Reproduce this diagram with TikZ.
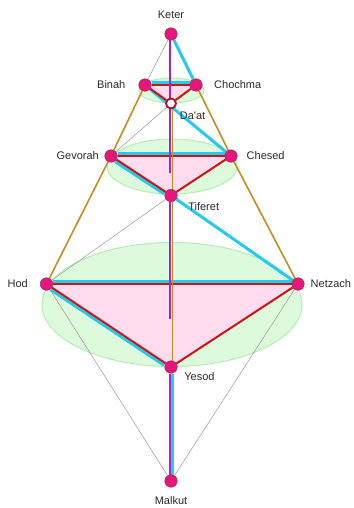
\documentclass[tikz,border=0pt]{standalone}
\usepackage{fontspec}
\setmainfont{Liberation Sans}
\usetikzlibrary{positioning,backgrounds}
\definecolor{csefira}{HTML}{E8157C}
\definecolor{cborder}{HTML}{8A3A4A}
\definecolor{cdaat}{HTML}{A8102C}
\definecolor{cpink}{HTML}{FFDDEE}
\definecolor{cveil}{HTML}{DDFADC}
\definecolor{cveilline}{HTML}{B4EEB2}
\definecolor{cred}{HTML}{CC1414}
\definecolor{ccyan}{HTML}{22CCEE}
\definecolor{cgold}{HTML}{CC8A1A}
\definecolor{cpurple}{HTML}{AA22CC}
\definecolor{cgrey}{HTML}{999999}
\definecolor{ctext}{HTML}{2A2A2A}

\begin{document}
\begin{tikzpicture}[x=1bp, y=-1bp,
    sefira/.style={circle, draw=cborder, fill=csefira, line width=0.5bp,
      minimum size=12.5bp, inner sep=0pt},
    hollow/.style={circle, draw=cdaat, fill=white, line width=1.8bp,
      minimum size=10bp, inner sep=0pt},
    lbl/.style={inner sep=0pt, text=ctext, font=\fontsize{11bp}{13bp}\selectfont},
    veil/.style={fill=cveil, draw=cveilline, line width=1bp},
    face/.style={fill=cpink},
    greypath/.style={draw=cgrey, line width=0.5bp},
    goldpath/.style={draw=cgold, line width=1.6bp},
    flash/.style={draw=ccyan, line width=3bp},
    redpath/.style={draw=cred, line width=2bp},
    pillar/.style={draw=cpurple, line width=2bp}]
    \useasboundingbox (0,0) rectangle (353,508);
    % sefirot
    \node[sefira] (keter) at (171,34) {};
    \node[sefira] (binah) at (145,85) {};
    \node[sefira] (chochma) at (196,85) {};
    \node[hollow] (daat) at (171,103.5) {};
    \node[sefira] (gevorah) at (111,156) {};
    \node[sefira] (chesed) at (231,156) {};
    \node[sefira] (tiferet) at (171,195.5) {};
    \node[sefira] (hod) at (46.5,284) {};
    \node[sefira] (netzach) at (298,284) {};
    \node[sefira] (yesod) at (171,367) {};
    \node[sefira] (malkut) at (171,481) {};
    \coordinate (pillarstop) at (171,173);
    \coordinate (pillarend) at (171,319);
    % names
    \node[lbl, above=8.5bp of keter] (keterlbl) {Keter};
    \node[lbl, left=13bp of binah] (binahlbl) {Binah};
    \node[lbl, right=11.5bp of chochma] (chochmalbl) {Chochma};
    \node[lbl, below right=4.5bp and 4.5bp of daat] (daatlbl) {Da\textquotesingle at};
    \node[lbl, left=5.5bp of gevorah] (gevorahlbl) {Gevorah};
    \node[lbl, right=9bp of chesed] (chesedlbl) {Chesed};
    \node[lbl, below right=2.5bp and 12.5bp of tiferet] (tiferetlbl) {Tiferet};
    \node[lbl, left=12bp of hod] (hodlbl) {Hod};
    \node[lbl, right=6bp of netzach] (netzachlbl) {Netzach};
    \node[lbl, below right=0.5bp and 8.5bp of yesod] (yesodlbl) {Yesod};
    \node[lbl, below=8.5bp of malkut] (malkutlbl) {Malkut};

    \begin{scope}[on background layer]
      % veils and triangles
      \path[veil] (171.5,90.5) ellipse[x radius=32.5, y radius=12.5];
      \path[veil] (172,166.5) ellipse[x radius=65, y radius=27.5];
      \path[veil] (172,304.5) ellipse[x radius=130, y radius=62];
      \fill[face] (binah.center) -- (chochma.center) -- (daat.center) -- cycle;
      \fill[face] (gevorah.center) -- (chesed.center) -- (tiferet.center) -- cycle;
      \fill[face] (hod.center) -- (netzach.center) -- (yesod.center) -- cycle;
      % thin paths
      \draw[greypath] (keter) -- (binah);
      \draw[greypath] (daat) -- (gevorah);
      \draw[greypath] (tiferet) -- (hod);
      \draw[greypath] (tiferet) -- (netzach);
      \draw[greypath] (hod) -- (malkut);
      \draw[greypath] (netzach) -- (malkut);
      % lightning flash
      \draw[flash] (keter) -- (chochma);
      \draw[flash, transform canvas={yshift=2.5bp}] (chochma) -- (binah);
      \draw[flash] (binah) -- (chesed);
      \draw[flash, transform canvas={yshift=2.8bp}] (chesed) -- (gevorah);
      \draw[flash, transform canvas={xshift=-1.4bp, yshift=-2bp}] (gevorah) -- (tiferet);
      \draw[flash] (tiferet) -- (netzach);
      \draw[flash, transform canvas={yshift=2.5bp}] (netzach) -- (hod);
      \draw[flash, transform canvas={xshift=-1.4bp, yshift=-2bp}] (hod) -- (yesod);
      \draw[flash, transform canvas={xshift=1.5bp}] (yesod) -- (malkut);
      % triangles
      \draw[redpath] (binah) -- (chochma);
      \draw[redpath] (chochma) -- (daat);
      \draw[redpath] (daat) -- (binah);
      \draw[redpath] (gevorah) -- (chesed);
      \draw[redpath] (chesed) -- (tiferet);
      \draw[redpath] (tiferet) -- (gevorah);
      \draw[redpath] (hod) -- (netzach);
      \draw[redpath] (netzach) -- (yesod);
      \draw[redpath] (yesod) -- (hod);
      % pillars
      \draw[goldpath] (binah) -- (gevorah);
      \draw[goldpath] (gevorah) -- (hod);
      \draw[goldpath] (chochma) -- (chesed);
      \draw[goldpath] (chesed) -- (netzach);
      \draw[goldpath, transform canvas={xshift=1.5bp}] (daat) -- (tiferet);
      \draw[goldpath, transform canvas={xshift=1.5bp}] (tiferet) -- (yesod);
      \draw[pillar, transform canvas={xshift=-1.3bp}] (keter) -- (pillarstop);
      \draw[pillar, transform canvas={xshift=-1.3bp}] (tiferet) -- (pillarend);
      \draw[pillar, transform canvas={xshift=-1.3bp}] (yesod) -- (malkut);
    \end{scope}
\end{tikzpicture}
\end{document}
